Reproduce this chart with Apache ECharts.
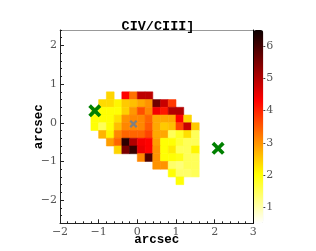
<!DOCTYPE html>
<html><head><meta charset="utf-8">
<script src="https://cdn.jsdelivr.net/npm/echarts@6/dist/echarts.min.js"></script>
<style>html,body{margin:0;padding:0;background:#fff}#c{width:316px;height:251px}</style>
</head><body><div id="c"></div>
<script>
// ---- data ----
const colX = [-1.1,-0.9,-0.7,-0.5,-0.3,-0.1,0.1,0.3,0.5,0.7,0.9,1.1,1.3,1.5];
const rowY = [0.7,0.5,0.3,0.1,-0.1,-0.3,-0.5,-0.7,-0.9,-1.1,-1.3,-1.5];
const ratioRows = [
  [null,null,2.4,null,4.3,3.3,4.9,4.9,null,null,null,null,null,null],
  [null,2.35,2.35,2.1,2.5,2.6,2.8,3.0,5.6,4.8,3.8,null,null,null],
  [1.5,2.0,2.0,2.0,2.45,2.95,3.6,3.1,4.4,4.1,5.0,5.0,null,null],
  [2.0,2.0,2.0,2.3,3.0,3.1,3.1,3.4,2.8,2.8,2.8,4.3,2.4,null],
  [2.0,1.5,2.0,2.6,3.1,3.1,3.1,3.5,2.8,2.5,2.6,3.7,4.8,2.5],
  [null,2.7,2.1,3.1,3.4,3.4,3.4,3.7,2.8,2.8,1.5,1.8,2.3,1.5],
  [null,null,2.9,3.4,6.2,5.0,4.4,4.3,2.9,2.0,2.0,1.7,1.5,1.5],
  [null,null,null,2.4,5.5,6.1,4.5,4.3,3.0,2.0,2.2,1.5,1.5,2.1],
  [null,null,null,null,null,null,3.1,5.9,3.0,2.0,2.0,1.9,1.5,1.5],
  [null,null,null,null,null,null,null,null,3.0,3.0,1.4,1.3,1.5,1.5],
  [null,null,null,null,null,null,null,null,null,null,2.0,1.4,1.4,1.5],
  [null,null,null,null,null,null,null,null,null,null,null,2.0,null,null]
];
const greenMarks = [[-1.1, 0.31],[2.09,-0.66]];
const grayMarks = [[-0.1,-0.03]];
const xRange = [-2, 3];
const yRange = [-2.6, 2.4];
const xTicks = [-2,-1,0,1,2,3];
const yTicks = [-2,-1,0,1,2];
const yMinorTicks = [-2.6,-2.4,-2.2,-1.8,-1.6,-1.4,-1.2,-0.8,-0.6,-0.4,-0.2,0.2,0.4,0.6,0.8,1.2,1.4,1.6,1.8,2.2,2.4];
const cbarRange = [0.5, 6.5];
const cbarTicks = [1,2,3,4,5,6];
const pixelScale = 0.2;

// ---- build ----
const cells = [];
ratioRows.forEach((row, r) => row.forEach((v, c) => { if (v !== null) cells.push([colX[c], rowY[r], v]); }));

function hotR(u){ // matplotlib 'hot_r'
  const t = 1 - u;
  const r = t < 0.365079 ? 0.0416 + (1-0.0416)*t/0.365079 : 1;
  const g = t < 0.365079 ? 0 : (t < 0.746032 ? (t-0.365079)/(0.746032-0.365079) : 1);
  const b = t < 0.746032 ? 0 : (t-0.746032)/(1-0.746032);
  const h = x => Math.round(Math.max(0,Math.min(1,x))*255);
  return 'rgb(' + h(r) + ',' + h(g) + ',' + h(b) + ')';
}
const cmap = [];
for (let i = 0; i <= 60; i++) cmap.push(hotR(i/60));

const xShape = 'path://M2,0 L5,3 L8,0 L10,2 L7,5 L10,8 L8,10 L5,7 L2,10 L0,8 L3,5 L0,2 Z';
const serif = 'DejaVu Serif';
const mono = 'Liberation Mono';
const labelColor = '#555';
const fmt = v => (v < 0 ? '\u2212' + Math.abs(v) : String(v));

const chart = echarts.init(document.getElementById('c'), null, {renderer:'canvas'});
chart.setOption({
  animation: false,
  backgroundColor: '#fff',
  title: {text: 'CIV/CIII]', left: 'center', top: 15,
    textStyle: {fontFamily: mono, fontWeight: 'bold', fontSize: 13.5, color: '#000'}},
  grid: [
    {left: 60, top: 30, width: 193.3, height: 193.3, outerBoundsMode: 'none', containLabel: false},
    {left: 253.3, top: 30, width: 10, height: 193.3, outerBoundsMode: 'none', containLabel: false}
  ],
  xAxis: [
    {type:'value', gridIndex:0, position:'bottom', min:xRange[0], max:xRange[1], interval:1,
     name:'arcsec', nameLocation:'middle', nameGap:10, nameMoveOverlap:false,
     nameTextStyle:{fontFamily:mono, fontWeight:'bold', fontSize:12.5, color:'#000'},
     axisLine:{show:true, onZero:false, lineStyle:{color:'#222', width:1}},
     axisTick:{show:true, inside:true, length:4, lineStyle:{color:'#222'}},
     minorTick:{show:true, splitNumber:5, length:2, lineStyle:{color:'#222'}},
     axisLabel:{customValues:xTicks, fontFamily:serif, fontSize:11, color:labelColor, margin:3, formatter: fmt},
     splitLine:{show:false}},
    {type:'value', gridIndex:0, position:'top', min:xRange[0], max:xRange[1],
     axisLine:{show:true, onZero:false, lineStyle:{color:'#999', width:1}},
     axisTick:{show:false}, axisLabel:{show:false}, splitLine:{show:false}},
    {type:'value', gridIndex:1, min:0, max:1, show:false}
  ],
  yAxis: [
    {type:'value', gridIndex:0, position:'left', min:yRange[0], max:yRange[1],
     name:'arcsec', nameLocation:'middle', nameGap:15, nameRotate:90, nameMoveOverlap:false,
     nameTextStyle:{fontFamily:mono, fontWeight:'bold', fontSize:12.5, color:'#000'},
     axisLine:{show:true, onZero:false, lineStyle:{color:'#222', width:1}},
     axisTick:{show:true, inside:true, length:4, customValues:yTicks, lineStyle:{color:'#222'}},
     axisLabel:{customValues:yTicks, fontFamily:serif, fontSize:11, color:labelColor, margin:3, formatter: fmt},
     splitLine:{show:false}},
    {type:'value', gridIndex:0, position:'left', min:yRange[0], max:yRange[1],
     axisLine:{show:false, onZero:false}, axisLabel:{show:false}, splitLine:{show:false},
     axisTick:{show:true, inside:true, length:2, customValues:yMinorTicks, lineStyle:{color:'#222'}}},
    {type:'value', gridIndex:1, position:'right', min:cbarRange[0], max:cbarRange[1],
     axisLine:{show:false, onZero:false}, splitLine:{show:false},
     axisTick:{show:true, inside:false, length:2, customValues:cbarTicks, lineStyle:{color:'#444'}},
     axisLabel:{customValues:cbarTicks, fontFamily:serif, fontSize:11, color:labelColor, margin:3}},
    {type:'value', gridIndex:1, position:'left', min:cbarRange[0], max:cbarRange[1], z:10,
     axisLine:{show:true, onZero:false, lineStyle:{color:'#000', width:1}},
     axisTick:{show:false}, axisLabel:{show:false}, splitLine:{show:false}}
  ],
  visualMap: {
    type:'continuous', seriesIndex:0, dimension:2, min:cbarRange[0], max:cbarRange[1],
    calculable:false, hoverLink:false, left:253.3, top:30, itemWidth:10, itemHeight:193.3,
    padding:0, inRange:{color:cmap}, z:3
  },
  series: [
    {type:'custom', xAxisIndex:0, yAxisIndex:0, data:cells, encode:{x:0, y:1},
     renderItem: function(params, api){
       const x = api.value(0), y = api.value(1), h = pixelScale/2;
       const p1 = api.coord([x-h, y+h]);
       const p2 = api.coord([x+h, y-h]);
       const c = api.visual('color');
       return {type:'rect', shape:{x:p1[0], y:p1[1], width:p2[0]-p1[0], height:p2[1]-p1[1]},
               style:{fill:c, stroke:c, lineWidth:0.6}};
     }, z:2},
    {type:'scatter', xAxisIndex:0, yAxisIndex:0, data:greenMarks, symbol:xShape, symbolSize:13,
     itemStyle:{color:'#008000', opacity:1}, z:5},
    {type:'scatter', xAxisIndex:0, yAxisIndex:0, data:grayMarks, symbol:xShape, symbolSize:8,
     itemStyle:{color:'#808080', opacity:1}, z:5}
  ]
});
</script></body></html>
